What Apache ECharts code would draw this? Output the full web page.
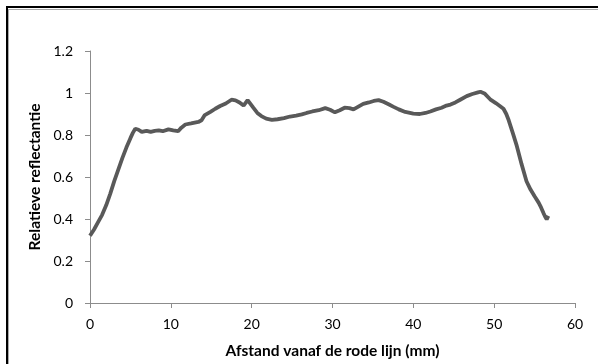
<!DOCTYPE html>
<html><head><meta charset="utf-8">
<script src="https://cdn.jsdelivr.net/npm/echarts@6/dist/echarts.min.js"></script>
<style>html,body{margin:0;padding:0;background:#fff}#c{width:598px;height:364px}</style>
</head><body><div id="c"></div>
<script>
const distance = [0, 0.5, 1, 1.5, 2, 2.5, 3, 3.5, 4, 4.5, 5, 5.3, 5.6, 6, 6.4, 7, 7.5, 8, 8.5, 9, 9.7, 10.3, 10.9, 11.3, 11.8, 12.5, 13.4, 13.8, 14.2, 14.9, 15.5, 16.1, 16.8, 17.5, 18, 18.5, 19, 19.5, 20.2, 20.7, 21.2, 21.8, 22.5, 23.2, 24, 24.75, 25.5, 26.2, 26.8, 27.5, 28.3, 29.1, 29.7, 30.3, 30.9, 31.5, 32.1, 32.6, 33.2, 33.8, 34.5, 35.1, 35.7, 36.3, 37, 37.5, 38.2, 39, 40, 40.8, 41.5, 42.1, 42.8, 43.5, 44.1, 44.6, 45.2, 45.8, 46.6, 47.3, 48, 48.3, 48.8, 49.5, 50.2, 50.7, 51.15, 51.5, 51.8, 52.3, 52.8, 53.4, 54, 54.5, 55, 55.5, 55.8, 56.1, 56.3, 56.5, 56.7];
const reflectance = [0.32, 0.35, 0.385, 0.42, 0.465, 0.52, 0.58, 0.635, 0.69, 0.74, 0.785, 0.81, 0.83, 0.825, 0.815, 0.82, 0.815, 0.82, 0.822, 0.818, 0.827, 0.822, 0.818, 0.835, 0.85, 0.855, 0.862, 0.87, 0.895, 0.91, 0.925, 0.938, 0.95, 0.968, 0.965, 0.955, 0.94, 0.966, 0.93, 0.905, 0.89, 0.878, 0.872, 0.875, 0.88, 0.888, 0.892, 0.898, 0.905, 0.912, 0.918, 0.928, 0.92, 0.908, 0.918, 0.93, 0.928, 0.922, 0.935, 0.948, 0.955, 0.962, 0.966, 0.958, 0.945, 0.935, 0.922, 0.91, 0.902, 0.9, 0.905, 0.912, 0.922, 0.93, 0.94, 0.945, 0.955, 0.968, 0.985, 0.995, 1.003, 1.006, 0.998, 0.97, 0.952, 0.938, 0.925, 0.9, 0.87, 0.81, 0.748, 0.66, 0.58, 0.54, 0.508, 0.478, 0.455, 0.428, 0.412, 0.398, 0.415];
const xTicks = {min: 0, max: 60, interval: 10};
const yTicks = {min: 0, max: 1.2, interval: 0.2};
const xTitle = 'Afstand vanaf de rode lijn (mm)';
const yTitle = 'Relatieve reflectantie';

const points = distance.map((d, i) => [d, reflectance[i]]);
const font = 'Lato, "Open Sans", "Liberation Sans", sans-serif';
const chart = echarts.init(document.getElementById('c'), null, {renderer: 'canvas'});
chart.setOption({
  animation: false,
  backgroundColor: '#fff',
  graphic: [
    {type: 'rect', shape: {x: 6, y: 6, width: 600, height: 2}, style: {fill: '#000'}},
    {type: 'rect', shape: {x: 6, y: 6, width: 2, height: 400}, style: {fill: '#000'}},
    {type: 'rect', shape: {x: 8, y: 9, width: 600, height: 1}, style: {fill: '#aaa'}},
    {type: 'rect', shape: {x: 8, y: 9, width: 1, height: 400}, style: {fill: '#aaa'}}
  ],
  grid: {left: 90, right: 23, top: 51, bottom: 59},
  xAxis: {
    type: 'value', min: xTicks.min, max: xTicks.max, interval: xTicks.interval,
    name: xTitle, nameLocation: 'middle', nameGap: 40,
    nameTextStyle: {fontFamily: font, fontSize: 15.5, fontWeight: 'bold', color: '#000'},
    axisLine: {show: true, lineStyle: {color: '#8c8c8c', width: 1}},
    axisTick: {show: true, length: 5, lineStyle: {color: '#8c8c8c'}},
    axisLabel: {fontFamily: font, fontSize: 14, color: '#000', margin: 14},
    splitLine: {show: false}
  },
  yAxis: {
    type: 'value', min: yTicks.min, max: yTicks.max, interval: yTicks.interval,
    name: yTitle, nameLocation: 'middle', nameGap: 41, nameRotate: 90,
    nameTextStyle: {fontFamily: font, fontSize: 15.5, fontWeight: 'bold', color: '#000'},
    axisLine: {show: true, lineStyle: {color: '#8c8c8c', width: 1}},
    axisTick: {show: true, length: 5, lineStyle: {color: '#8c8c8c'}},
    axisLabel: {fontFamily: font, fontSize: 14, color: '#000', margin: 17},
    splitLine: {show: false}
  },
  series: [{
    type: 'line', data: points, showSymbol: false, smooth: false,
    lineStyle: {color: '#595959', width: 3.8}
  }]
});
</script></body></html>
